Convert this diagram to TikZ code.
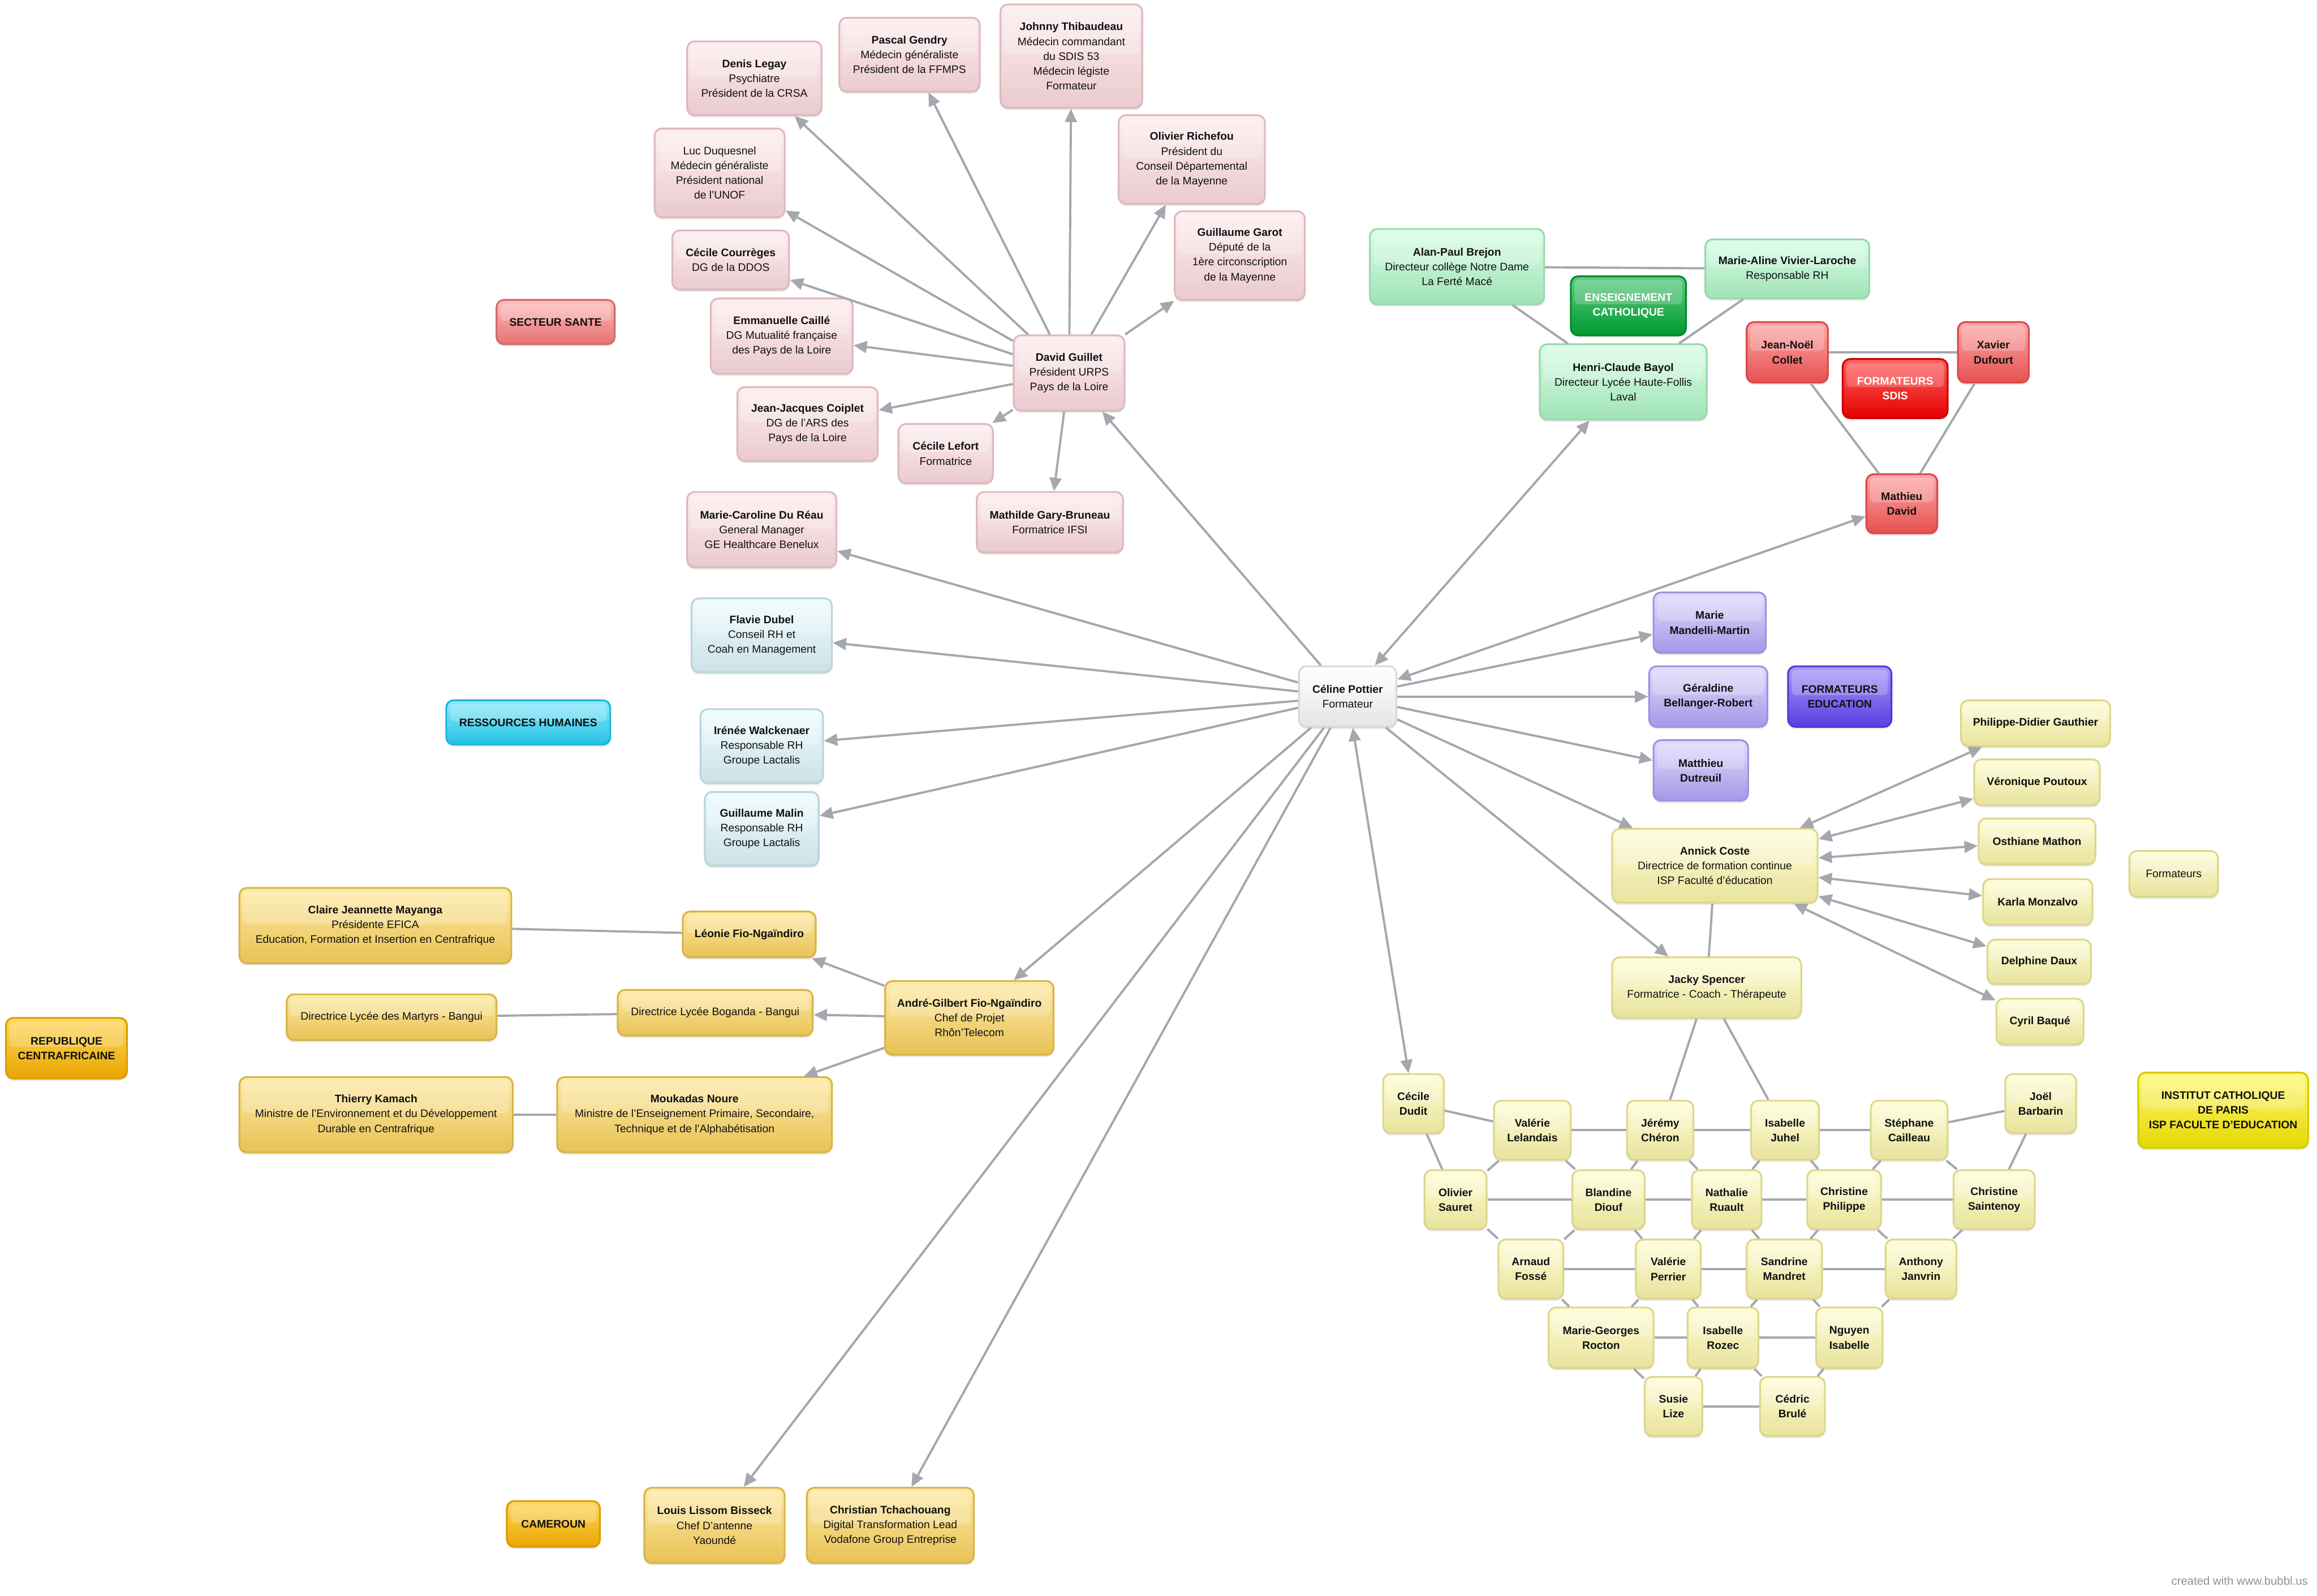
\documentclass[tikz,border=0pt]{standalone}
\usepackage{fontspec}
\setmainfont{Liberation Sans}
\usetikzlibrary{arrows.meta,shadows}
\definecolor{lgray}{HTML}{A4A7AE}
\definecolor{pkT}{HTML}{FEEEF0}\definecolor{pkD}{HTML}{EACACE}\definecolor{pkB}{HTML}{DDB9BD}
\definecolor{hrT}{HTML}{EFFCFF}\definecolor{hrD}{HTML}{CCE1E7}\definecolor{hrB}{HTML}{BBD4DB}
\definecolor{cyT}{HTML}{8FEBFD}\definecolor{cyD}{HTML}{22C2E3}\definecolor{cyB}{HTML}{1DB5D6}
\definecolor{grT}{HTML}{DAFEE7}\definecolor{grD}{HTML}{A0E3B6}\definecolor{grB}{HTML}{9AD8AE}
\definecolor{dgT}{HTML}{5FCB83}\definecolor{dgD}{HTML}{009A2E}\definecolor{dgB}{HTML}{008A28}
\definecolor{rdT}{HTML}{FFA9A9}\definecolor{rdD}{HTML}{E65050}\definecolor{rdB}{HTML}{DA4A4A}
\definecolor{rhT}{HTML}{FF6262}\definecolor{rhD}{HTML}{E50000}\definecolor{rhB}{HTML}{CC0000}
\definecolor{puT}{HTML}{E2DCFE}\definecolor{puD}{HTML}{A697E6}\definecolor{puB}{HTML}{A191E0}
\definecolor{phT}{HTML}{A99AF8}\definecolor{phD}{HTML}{5A3EE2}\definecolor{phB}{HTML}{5237D2}
\definecolor{ylT}{HTML}{FFFDD8}\definecolor{ylD}{HTML}{E8E39C}\definecolor{ylB}{HTML}{DCD68E}
\definecolor{ihT}{HTML}{FFF97A}\definecolor{ihD}{HTML}{E5D800}\definecolor{ihB}{HTML}{D6CB00}
\definecolor{orT}{HTML}{FEEAA6}\definecolor{orD}{HTML}{E8C255}\definecolor{orB}{HTML}{D8B449}
\definecolor{ohT}{HTML}{FFD85E}\definecolor{ohD}{HTML}{E9A600}\definecolor{ohB}{HTML}{D99D00}
\definecolor{shT}{HTML}{FFBDBD}\definecolor{shD}{HTML}{E47272}\definecolor{shB}{HTML}{D46A6A}
\definecolor{wtT}{HTML}{FFFFFF}\definecolor{wtD}{HTML}{E5E5E5}\definecolor{wtB}{HTML}{D8D8D8}
\definecolor{wmark}{HTML}{8C9099}
\definecolor{txt}{HTML}{111111}
\tikzset{
  box/.style={rounded corners=5pt, line width=1.2pt, align=center, inner sep=1pt,
    text=txt, font=\fontsize{7.4}{10}\selectfont,
    drop shadow={opacity=0.18, shadow xshift=0pt, shadow yshift=-1.5pt},
    path picture={\fill[white,opacity=0.22,rounded corners=3pt]
      ([xshift=2.5pt,yshift=-2.5pt]path picture bounding box.north west) rectangle
      ([xshift=-2.5pt,yshift=1pt]path picture bounding box.east);}},
  hdr/.style={box, font={\fontsize{7.4}{10}\selectfont\bfseries}},
  pk/.style={box, draw=pkB, top color=pkT, bottom color=pkD},
  hr/.style={box, draw=hrB, top color=hrT, bottom color=hrD},
  cyh/.style={hdr, draw=cyB, top color=cyT, bottom color=cyD},
  gr/.style={box, draw=grB, top color=grT, bottom color=grD},
  dgh/.style={hdr, draw=dgB, top color=dgT, bottom color=dgD, text=white},
  rd/.style={hdr, draw=rdB, top color=rdT, bottom color=rdD},
  rdh/.style={hdr, draw=rhB, top color=rhT, bottom color=rhD, text=white},
  pu/.style={hdr, draw=puB, top color=puT, bottom color=puD},
  puh/.style={hdr, draw=phB, top color=phT, bottom color=phD},
  yl/.style={box, draw=ylB, top color=ylT, bottom color=ylD},
  ylb/.style={hdr, draw=ylB, top color=ylT, bottom color=ylD},
  ih/.style={hdr, draw=ihB, top color=ihT, bottom color=ihD},
  og/.style={box, draw=orB, top color=orT, bottom color=orD},
  ogh/.style={hdr, draw=ohB, top color=ohT, bottom color=ohD},
  sh/.style={hdr, draw=shB, top color=shT, bottom color=shD},
  wt/.style={box, draw=wtB, top color=wtT, bottom color=wtD},
  ln/.style={draw=lgray, line width=1.5pt},
  ar/.style={ln, -{Triangle[length=9pt,width=8pt]}},
  bi/.style={ln, {Triangle[length=9pt,width=8pt]}-{Triangle[length=9pt,width=8pt]}},
}
\newcommand\mkbox[7]{%
  \pgfmathsetmacro\mkbw{#5-#3}\pgfmathsetmacro\mkbh{#6-#4}%
  \node[#1, minimum width=\mkbw pt, minimum height=\mkbh pt] (#2) at ({(#3+#5)/2},{(#4+#6)/2}) {#7};}
\begin{document}
\begin{tikzpicture}[x=1pt,y=-1pt]
\useasboundingbox (0,0) rectangle (1568,1080);
% ---------- pink ----------
\mkbox{pk}{dl}{465}{28}{556}{78}{\textbf{Denis Legay}\\Psychiatre\\Président de la CRSA}
\mkbox{pk}{pg}{568}{12}{663}{62}{\textbf{Pascal Gendry}\\Médecin généraliste\\Président de la FFMPS}
\mkbox{pk}{jt}{677}{3}{773}{73}{\textbf{Johnny Thibaudeau}\\Médecin commandant\\du SDIS 53\\Médecin légiste\\Formateur}
\mkbox{pk}{orf}{757}{78}{856}{138}{\textbf{Olivier Richefou}\\Président du\\Conseil Départemental\\de la Mayenne}
\mkbox{pk}{gg}{795}{143}{883}{203}{\textbf{Guillaume Garot}\\Député de la\\1ère circonscription\\de la Mayenne}
\mkbox{pk}{ld}{443}{87}{531}{147}{Luc Duquesnel\\Médecin généraliste\\Président national\\de l'UNOF}
\mkbox{pk}{cc}{455}{156}{534}{196}{\textbf{Cécile Courrèges}\\DG de la DDOS}
\mkbox{pk}{ec}{481}{202}{577}{253}{\textbf{Emmanuelle Caillé}\\DG Mutualité française\\des Pays de la Loire}
\mkbox{pk}{dg}{686}{227}{761}{278}{\textbf{David Guillet}\\Président URPS\\Pays de la Loire}
\mkbox{pk}{jjc}{499}{262}{594}{312}{\textbf{Jean-Jacques Coiplet}\\DG de l'ARS des\\Pays de la Loire}
\mkbox{pk}{cl}{608}{287}{672}{327}{\textbf{Cécile Lefort}\\Formatrice}
\mkbox{pk}{mgb}{661}{333}{760}{374}{\textbf{Mathilde Gary-Bruneau}\\Formatrice IFSI}
\mkbox{pk}{mcr}{465}{333}{566}{384}{\textbf{Marie-Caroline Du Réau}\\General Manager\\GE Healthcare Benelux}
\mkbox{sh}{sante}{336}{203}{416}{233}{SECTEUR SANTE}
% ---------- HR ----------
\mkbox{hr}{fd}{468}{405}{563}{455}{\textbf{Flavie Dubel}\\Conseil RH et\\Coah en Management}
\mkbox{hr}{iw}{474}{480}{557}{530}{\textbf{Irénée Walckenaer}\\Responsable RH\\Groupe Lactalis}
\mkbox{hr}{gm}{477}{536}{554}{586}{\textbf{Guillaume Malin}\\Responsable RH\\Groupe Lactalis}
\mkbox{cyh}{rh}{302}{474}{413}{504}{RESSOURCES HUMAINES}
% ---------- centre ----------
\mkbox{wt}{cp}{879}{451}{945}{492}{\textbf{Céline Pottier}\\Formateur}
% ---------- purple ----------
\mkbox{pu}{mmm}{1119}{401}{1195}{442}{Marie\\Mandelli-Martin}
\mkbox{pu}{gbr}{1116}{451}{1196}{492}{Géraldine\\Bellanger-Robert}
\mkbox{puh}{fe}{1210}{451}{1280}{492}{FORMATEURS\\EDUCATION}
\mkbox{pu}{mdu}{1119}{501}{1183}{542}{Matthieu\\Dutreuil}
% ---------- green ----------
\mkbox{gr}{apb}{927}{155}{1045}{206}{\textbf{Alan-Paul Brejon}\\Directeur collège Notre Dame\\La Ferté Macé}
\mkbox{gr}{mavl}{1154}{162}{1265}{202}{\textbf{Marie-Aline Vivier-Laroche}\\Responsable RH}
\mkbox{dgh}{ecat}{1063}{187}{1141}{227}{ENSEIGNEMENT\\CATHOLIQUE}
\mkbox{gr}{hcb}{1042}{233}{1155}{284}{\textbf{Henri-Claude Bayol}\\Directeur Lycée Haute-Follis\\Laval}
% ---------- red ----------
\mkbox{rd}{jnc}{1182}{218}{1237}{259}{Jean-Noël\\Collet}
\mkbox{rd}{xd}{1325}{218}{1373}{259}{Xavier\\Dufourt}
\mkbox{rdh}{fs}{1247}{243}{1318}{283}{FORMATEURS\\SDIS}
\mkbox{rd}{mad}{1263}{321}{1311}{361}{Mathieu\\David}
% ---------- yellow right ----------
\mkbox{ylb}{pdg}{1327}{474}{1428}{505}{Philippe-Didier Gauthier}
\mkbox{ylb}{vpo}{1336}{514}{1421}{545}{Véronique Poutoux}
\mkbox{ylb}{om}{1339}{554}{1418}{585}{Osthiane Mathon}
\mkbox{ylb}{km}{1342}{595}{1416}{626}{Karla Monzalvo}
\mkbox{ylb}{ddx}{1345}{636}{1415}{666}{Delphine Daux}
\mkbox{ylb}{cba}{1351}{676}{1410}{707}{Cyril Baqué}
\mkbox{yl}{fm}{1441}{576}{1501}{607}{Formateurs}
\mkbox{yl}{ac}{1091}{561}{1230}{611}{\textbf{Annick Coste}\\Directrice de formation continue\\ISP Faculté d'éducation}
\mkbox{yl}{js}{1091}{648}{1219}{689}{\textbf{Jacky Spencer}\\Formatrice - Coach - Thérapeute}
\mkbox{ih}{icp}{1447}{726}{1562}{777}{INSTITUT CATHOLIQUE\\DE PARIS\\ISP FACULTE D'EDUCATION}
% ---------- grid ----------
\mkbox{ylb}{cdu}{936}{727}{977}{767}{Cécile\\Dudit}
\mkbox{ylb}{vl}{1011}{745}{1063}{785}{Valérie\\Lelandais}
\mkbox{ylb}{jch}{1101}{745}{1146}{785}{Jérémy\\Chéron}
\mkbox{ylb}{ij}{1185}{745}{1231}{785}{Isabelle\\Juhel}
\mkbox{ylb}{sc}{1266}{745}{1318}{785}{Stéphane\\Cailleau}
\mkbox{ylb}{jb}{1357}{727}{1405}{767}{Joël\\Barbarin}
\mkbox{ylb}{os}{964}{792}{1006}{832}{Olivier\\Sauret}
\mkbox{ylb}{bd}{1064}{792}{1113}{832}{Blandine\\Diouf}
\mkbox{ylb}{nr}{1145}{792}{1192}{832}{Nathalie\\Ruault}
\mkbox{ylb}{cph}{1223}{792}{1273}{832}{Christine\\Philippe}
\mkbox{ylb}{cs}{1322}{792}{1377}{832}{Christine\\Saintenoy}
\mkbox{ylb}{af}{1014}{839}{1058}{879}{Arnaud\\Fossé}
\mkbox{ylb}{vpe}{1107}{839}{1151}{879}{Valérie\\Perrier}
\mkbox{ylb}{sm}{1182}{839}{1233}{879}{Sandrine\\Mandret}
\mkbox{ylb}{aj}{1276}{839}{1324}{879}{Anthony\\Janvrin}
\mkbox{ylb}{mgr}{1048}{885}{1119}{926}{Marie-Georges\\Rocton}
\mkbox{ylb}{ir}{1142}{885}{1190}{926}{Isabelle\\Rozec}
\mkbox{ylb}{ni}{1229}{885}{1274}{926}{Nguyen\\Isabelle}
\mkbox{ylb}{sl}{1113}{932}{1152}{972}{Susie\\Lize}
\mkbox{ylb}{cbr}{1191}{932}{1235}{972}{Cédric\\Brulé}
% ---------- orange ----------
\mkbox{ogh}{rca}{4}{689}{86}{730}{REPUBLIQUE\\CENTRAFRICAINE}
\mkbox{og}{cjm}{162}{601}{346}{652}{\textbf{Claire Jeannette Mayanga}\\Présidente EFICA\\Education, Formation et Insertion en Centrafrique}
\mkbox{og}{lfn}{462}{617}{552}{648}{\textbf{Léonie Fio-Ngaïndiro}}
\mkbox{og}{dlm}{194}{673}{336}{704}{Directrice Lycée des Martyrs - Bangui}
\mkbox{og}{dlb}{418}{670}{550}{701}{Directrice Lycée Boganda - Bangui}
\mkbox{og}{agf}{599}{664}{713}{714}{\textbf{André-Gilbert Fio-Ngaïndiro}\\Chef de Projet\\Rhôn'Telecom}
\mkbox{og}{tk}{162}{729}{347}{780}{\textbf{Thierry Kamach}\\Ministre de l'Environnement et du Développement\\Durable en Centrafrique}
\mkbox{og}{mn}{377}{729}{563}{780}{\textbf{Moukadas Noure}\\Ministre de l'Enseignement Primaire, Secondaire,\\Technique et de l'Alphabétisation}
\mkbox{ogh}{cam}{343}{1016}{406}{1047}{CAMEROUN}
\mkbox{og}{llb}{436}{1007}{531}{1058}{\textbf{Louis Lissom Bisseck}\\Chef D'antenne\\Yaoundé}
\mkbox{og}{ct}{546}{1007}{659}{1058}{\textbf{Christian Tchachouang}\\Digital Transformation Lead\\Vodafone Group Entreprise}
% ---------- watermark ----------
\node[anchor=base east, inner sep=0pt, text=wmark, font=\fontsize{7.8}{9}\selectfont] (wm) at (1562,1073) {created with www.bubbl.us};
% ---------- connectors ----------
\foreach \t in {dl,pg,jt,orf,gg,ld,cc,ec,jjc,cl,mgb} \draw[ar] (dg) -- (\t);
\foreach \t in {dg,mcr,fd,iw,gm,mmm,gbr,mdu,ac,js,agf,llb,ct} \draw[ar] (cp) -- (\t);
\foreach \t in {hcb,mad,cdu} \draw[bi] (cp) -- (\t);
\foreach \t in {lfn,dlb,mn} \draw[ar] (agf) -- (\t);
\foreach \t in {pdg,vpo,om,km,ddx,cba} \draw[bi] (ac) -- (\t);
\draw[ln] (lfn) -- (cjm);
\draw[ln] (dlb) -- (dlm);
\draw[ln] (mn) -- (tk);
\draw[ln] (apb) -- (mavl);
\draw[ln] (apb) -- (hcb);
\draw[ln] (mavl) -- (hcb);
\draw[ln] (jnc) -- (xd);
\draw[ln] (jnc) -- (mad);
\draw[ln] (xd) -- (mad);
\draw[ln] (ac) -- (js);
\draw[ln] (js) -- (jch);
\draw[ln] (js) -- (ij);
\foreach \a/\b in {cdu/vl,vl/jch,jch/ij,ij/sc,sc/jb,cdu/os,jb/cs,
  vl/os,vl/bd,jch/bd,jch/nr,ij/nr,ij/cph,sc/cph,sc/cs,
  os/bd,bd/nr,nr/cph,cph/cs,
  os/af,bd/af,bd/vpe,nr/vpe,nr/sm,cph/sm,cph/aj,cs/aj,
  af/vpe,vpe/sm,sm/aj,
  af/mgr,vpe/mgr,vpe/ir,sm/ir,sm/ni,aj/ni,
  mgr/ir,ir/ni,
  mgr/sl,ir/sl,ir/cbr,ni/cbr,sl/cbr}
  \draw[ln] (\a) -- (\b);
\end{tikzpicture}
\end{document}
